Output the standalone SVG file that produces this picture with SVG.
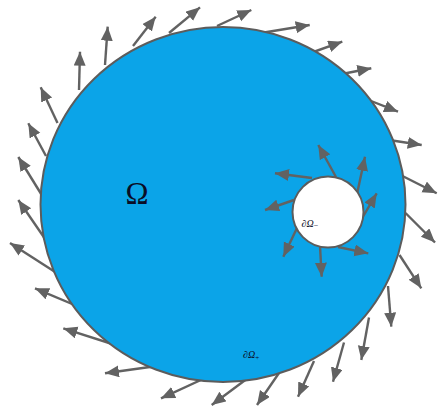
<svg xmlns="http://www.w3.org/2000/svg" width="438" height="407" viewBox="0 0 438 407">
<style>
.arr{stroke:#626262;stroke-width:2.4;fill:none;marker-end:url(#ah)}
.lbl{font-family:"Liberation Serif","DejaVu Serif",serif;fill:#0a0d26}
</style>
<defs>
<marker id="ah" markerUnits="userSpaceOnUse" markerWidth="15" markerHeight="13" refX="14" refY="6" orient="auto">
<path d="M0,0 L14,6 L0,12 z" fill="#626262"/>
</marker>
</defs>
<rect width="438" height="407" fill="#ffffff"/>
<g id="connectors-outer">
<line class="arr" x1="43" y1="197" x2="18.3" y2="157"/>
<line class="arr" x1="46" y1="156" x2="28.3" y2="123.3"/>
<line class="arr" x1="57.5" y1="123" x2="40.7" y2="87.3"/>
<line class="arr" x1="79" y1="90" x2="80" y2="51.7"/>
<line class="arr" x1="105" y1="65" x2="107.7" y2="26.7"/>
<line class="arr" x1="133" y1="46" x2="155.7" y2="16.7"/>
<line class="arr" x1="169" y1="33" x2="200" y2="7.3"/>
<line class="arr" x1="217" y1="26" x2="251.3" y2="10"/>
<line class="arr" x1="261" y1="33" x2="309.7" y2="25"/>
<line class="arr" x1="312" y1="52.5" x2="342.3" y2="41.7"/>
<line class="arr" x1="342" y1="74" x2="371.3" y2="68.3"/>
<line class="arr" x1="368.5" y1="100" x2="398" y2="111.7"/>
<line class="arr" x1="389" y1="140" x2="421.7" y2="145"/>
<line class="arr" x1="400.5" y1="175" x2="436.7" y2="193.3"/>
<line class="arr" x1="405.5" y1="213" x2="435" y2="242.5"/>
<line class="arr" x1="399.5" y1="255" x2="421.3" y2="288.3"/>
<line class="arr" x1="388" y1="286" x2="391.3" y2="326.7"/>
<line class="arr" x1="369" y1="317.5" x2="361.3" y2="360"/>
<line class="arr" x1="344" y1="342.5" x2="333" y2="381.7"/>
<line class="arr" x1="314" y1="361" x2="298" y2="396.7"/>
<line class="arr" x1="279" y1="373" x2="257" y2="405"/>
<line class="arr" x1="248" y1="378" x2="211.7" y2="405"/>
<line class="arr" x1="203" y1="379" x2="161" y2="398.3"/>
<line class="arr" x1="157" y1="366" x2="105" y2="373.3"/>
<line class="arr" x1="118.5" y1="346" x2="63.3" y2="328.3"/>
<line class="arr" x1="80.5" y1="307.5" x2="35" y2="288.3"/>
<line class="arr" x1="59" y1="274.5" x2="10" y2="243"/>
<line class="arr" x1="45.5" y1="239.5" x2="18.3" y2="200"/>
</g>
<g id="omega-domain">
<ellipse cx="223" cy="204.5" rx="182.5" ry="177.5" fill="#0ba4e8" stroke="#5c5c5c" stroke-width="2"/>
<text class="lbl" x="137" y="204" font-size="31" text-anchor="middle">Ω</text>
<text class="lbl" x="243" y="358" font-size="10" font-style="italic">∂Ω<tspan font-size="7" dy="2" font-style="normal">+</tspan></text>
</g>
<g id="connectors-inner">
<line class="arr" x1="336" y1="177" x2="318.3" y2="145"/>
<line class="arr" x1="357" y1="194" x2="365" y2="156.7"/>
<line class="arr" x1="361" y1="220" x2="376.7" y2="193.3"/>
<line class="arr" x1="338" y1="247" x2="368.3" y2="253.3"/>
<line class="arr" x1="320" y1="246" x2="321.7" y2="276.7"/>
<line class="arr" x1="297" y1="228" x2="283.3" y2="256.7"/>
<line class="arr" x1="294" y1="200" x2="265" y2="210"/>
<line class="arr" x1="312" y1="178" x2="275" y2="173.3"/>
</g>
<g id="hole">
<circle cx="328" cy="212" r="35.5" fill="#ffffff" stroke="#5c5c5c" stroke-width="2"/>
<text class="lbl" x="301.5" y="227" font-size="10" font-style="italic">∂Ω<tspan font-size="8" dy="1" font-style="normal">−</tspan></text>
</g>
</svg>
